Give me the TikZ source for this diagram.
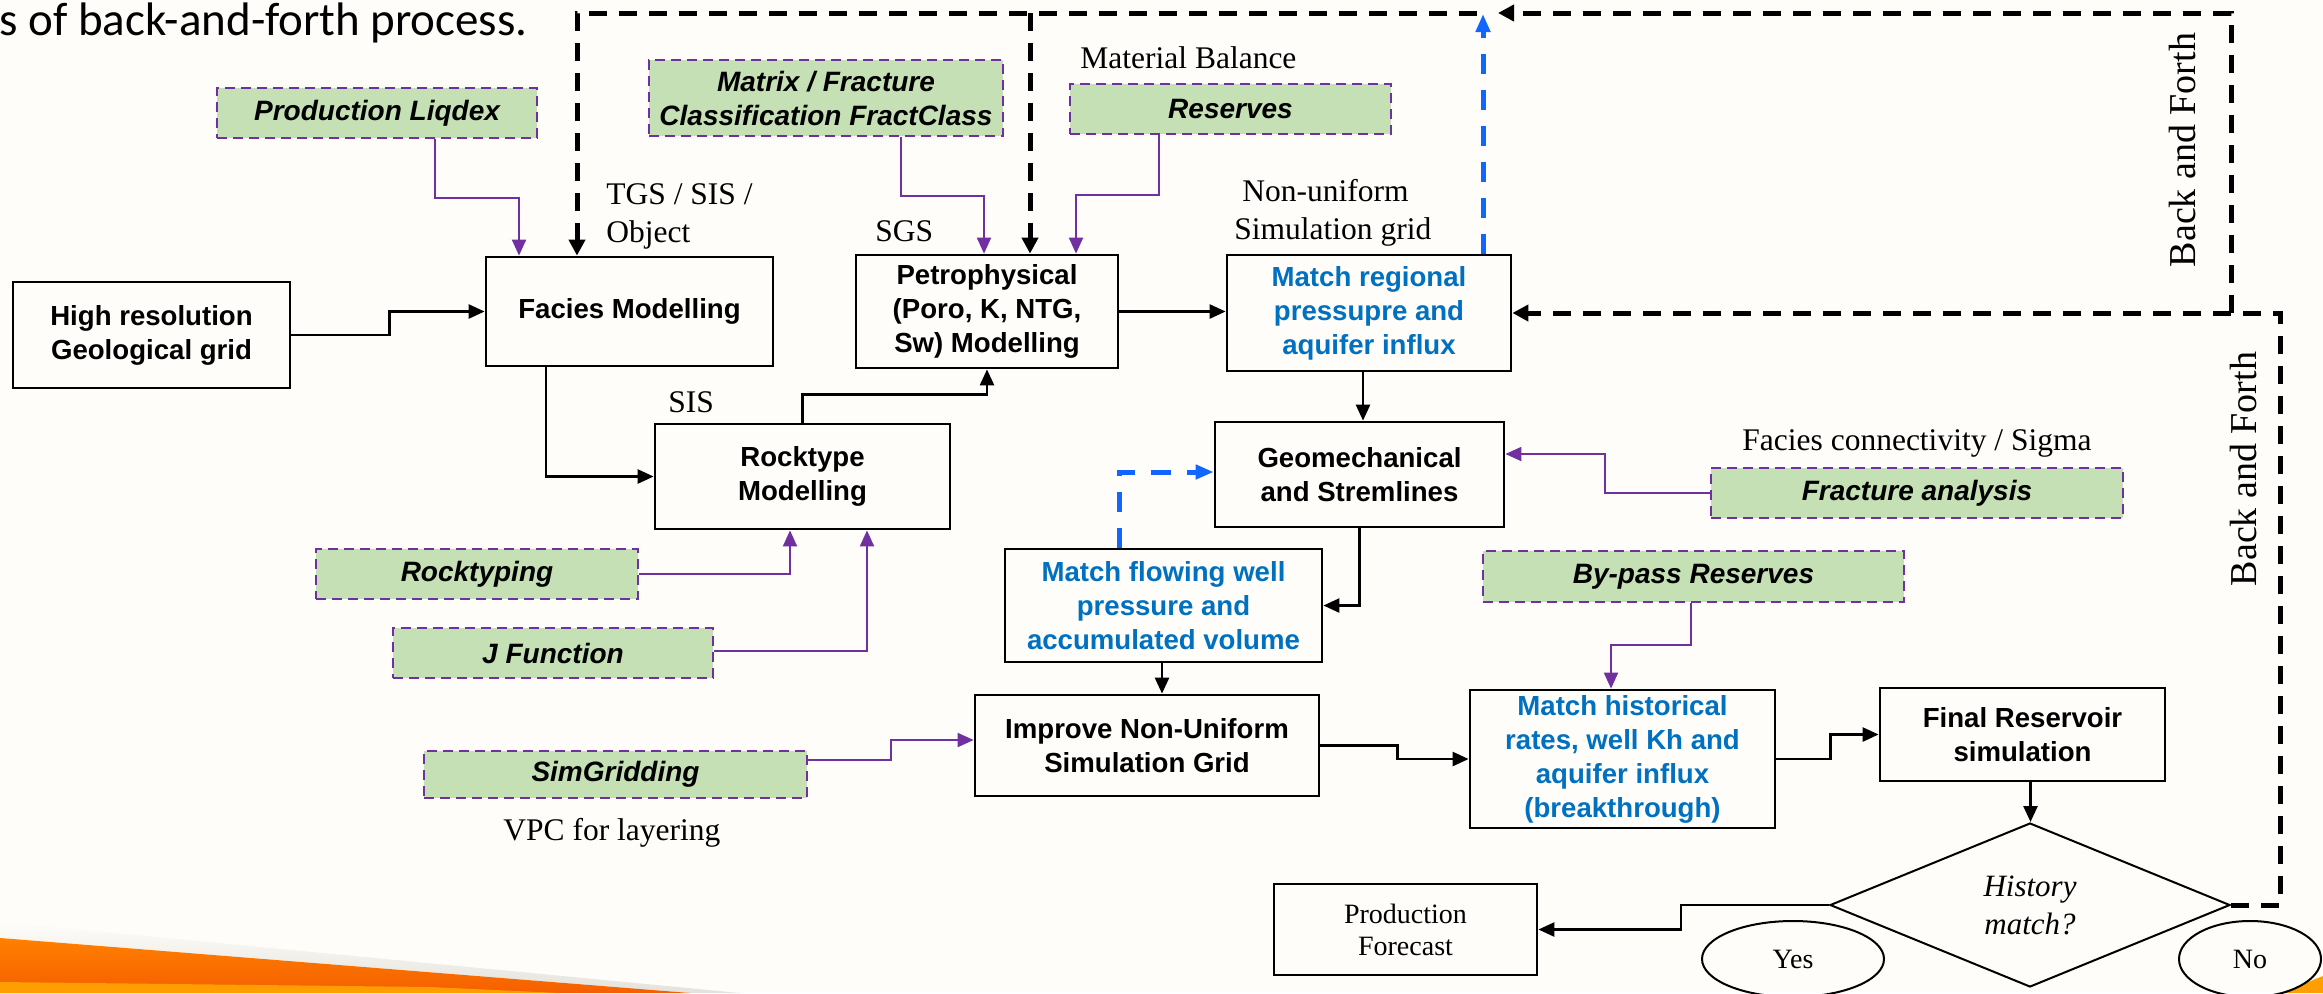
\documentclass[tikz,border=0pt]{standalone}
\usepackage{fontspec}
\setmainfont{Liberation Serif}
\setsansfont{Liberation Sans}
\newfontfamily\titlefont{Carlito}
\usetikzlibrary{arrows.meta,shapes.geometric,calc}
\definecolor{bgc}{RGB}{254,253,249}
\definecolor{grn}{RGB}{197,224,180}
\definecolor{purp}{RGB}{112,48,160}
\definecolor{bluetxt}{RGB}{0,112,192}
\definecolor{bluedash}{RGB}{17,102,255}
\definecolor{orng}{RGB}{255,128,0}
\definecolor{orngd}{RGB}{245,95,0}
\definecolor{orng2}{RGB}{255,158,0}
\definecolor{shd}{RGB}{228,226,220}
\begin{document}
\begin{tikzpicture}[x=0.5pt,y=-0.5pt,
 box/.style={draw, line width=1.4pt, fill=bgc, align=center, inner sep=2pt, font=\sffamily\bfseries\fontsize{13.8}{17}\selectfont},
 bluebox/.style={box, text=bluetxt},
 tool/.style={draw=purp, dash pattern=on 5pt off 3pt, line width=1.4pt, fill=grn, align=center, inner sep=2pt, font=\sffamily\bfseries\itshape\fontsize{14}{17}\selectfont},
 note/.style={font=\fontsize{15.75}{19}\selectfont, inner sep=0pt, anchor=base west},
 conn/.style={line width=1.3pt, -{Triangle[length=8pt,width=7pt]}},
 pconn/.style={draw=purp, line width=1pt, -{Triangle[length=8pt,width=7pt]}},
 fb/.style={line width=2.5pt, dash pattern=on 9pt off 6pt},
 fbarrow/.style={fb, -{Triangle[length=8pt,width=8pt]}},
 bluefb/.style={line width=2.5pt, draw=bluedash, dash pattern=on 10pt off 8pt, -{Triangle[length=9pt,width=7pt]}},
 oval/.style={ellipse, draw, line width=1pt, inner sep=0pt, font=\fontsize{14}{16}\selectfont}
]
\useasboundingbox (0,0) rectangle (2323,993);
\fill[bgc] (0,0) rectangle (2323,993);
% orange swoosh with soft shadow
\shade[top color=bgc, bottom color=shd] (0,922) -- (740,993) -- (690,993) -- (0,938) -- cycle;
\shade[top color=orng, bottom color=orngd] (0,938) -- (690,993) -- (0,993) -- cycle;
\fill[orng2] (0,982) -- (430,987) -- (560,993) -- (0,993) -- cycle;
\fill[orng2] (2285,993) .. controls (2300,986) and (2312,980) .. (2323,976) -- (2323,993) -- cycle;

% title
\node[anchor=base west, inner sep=0pt, font=\titlefont\fontsize{23.5}{28}\selectfont] (title) at (-1,35) {s of back-and-forth process.};

% main boxes
\node[box, minimum width=138.5pt, minimum height=53pt] (hr) at (151.5,335) {High resolution\\Geological grid};
\node[box, minimum width=143.5pt, minimum height=54.5pt] (facies) at (629.5,311.5) {Facies Modelling};
\node[box, minimum width=131pt, minimum height=56.5pt] (petro) at (987,311.5) {Petrophysical\\(Poro, K, NTG,\\Sw) Modelling};
\node[bluebox, minimum width=142pt, minimum height=58pt] (regional) at (1369,313) {Match regional\\pressupre and\\aquifer influx};
\node[box, minimum width=147.5pt, minimum height=52.5pt] (rock) at (802.5,476.5) {Rocktype\\Modelling};
\node[box, minimum width=144.5pt, minimum height=52.5pt] (geo) at (1359.5,474.5) {Geomechanical\\and Stremlines};
\node[bluebox, minimum width=158.5pt, minimum height=56.5pt] (flowing) at (1163.5,605.5) {Match flowing well\\pressure and\\accumulated volume};
\node[box, minimum width=172pt, minimum height=50.5pt] (improve) at (1147,745.5) {Improve Non-Uniform\\Simulation Grid};
\node[bluebox, minimum width=152.5pt, minimum height=69pt] (hist) at (1622.5,759) {Match historical\\rates, well Kh and\\aquifer influx\\(breakthrough)};
\node[box, minimum width=142.5pt, minimum height=46.5pt] (final) at (2022.5,734.5) {Final Reservoir\\simulation};
\node[draw, line width=1.4pt, fill=bgc, align=center, minimum width=131.5pt, minimum height=45.5pt, font=\fontsize{14}{16}\selectfont] (prod) at (1405.5,929.5) {Production\\Forecast};
\node[diamond, draw, line width=1pt, fill=bgc, minimum width=200pt, minimum height=82pt, inner sep=0pt, align=center, font=\itshape\fontsize{15.5}{19}\selectfont] (dia) at (2030,905) {History\\match?};
\node[oval, minimum width=91pt, minimum height=38pt] (yes) at (1793,959) {Yes};
\node[oval, minimum width=71pt, minimum height=38pt] (no) at (2250,959) {No};

% tool boxes
\node[tool, minimum width=160pt, minimum height=25pt] (liqdex) at (377,113) {Production Liqdex};
\node[tool, minimum width=177pt, minimum height=38pt] (matrix) at (826,98) {Matrix / Fracture\\Classification FractClass};
\node[tool, minimum width=160.5pt, minimum height=25pt] (reserves) at (1230.5,109) {Reserves};
\node[tool, minimum width=206pt, minimum height=25pt] (fracture) at (1917,493) {Fracture analysis};
\node[tool, minimum width=210.5pt, minimum height=25.5pt] (bypass) at (1693.5,576.5) {By-pass Reserves};
\node[tool, minimum width=161pt, minimum height=25pt] (rocktyping) at (477,574) {Rocktyping};
\node[tool, minimum width=160pt, minimum height=25pt] (jfunc) at (553,653) {J Function};
\node[tool, minimum width=191.5pt, minimum height=23.5pt] (simgrid) at (615.5,774.5) {SimGridding};

% notes
\node[note] (tgs1) at (606,204) {TGS / SIS /};
\node[note] (tgs2) at (606,242) {Object};
\node[note] (sis) at (668,412) {SIS};
\node[note] (sgs) at (875,241) {SGS};
\node[note] (mb) at (1080,68) {Material Balance};
\node[note] (nu1) at (1242,201) {Non-uniform};
\node[note] (nu2) at (1234,239) {Simulation grid};
\node[note] (fcs) at (1742,450) {Facies connectivity / Sigma};
\node[note] (vpc) at (503,840) {VPC for layering};
\node[rotate=90, inner sep=0pt, font=\fontsize{19}{21}\selectfont] (bf1) at (2182,150) {Back and Forth};
\node[rotate=90, inner sep=0pt, font=\fontsize{19}{21}\selectfont] (bf2) at (2243,469) {Back and Forth};

% coordinates for feedback loops
\coordinate (topL) at (577,13);
\coordinate (topM) at (1477,13);
\coordinate (topP) at (1030,13);
\coordinate (topB) at (1483,14);
\coordinate (topR) at (1498,13);
\coordinate (cA) at (2231,313);
\coordinate (cB) at (2231,13);
\coordinate (cNo) at (2280,313);
\coordinate (rs) at ($(regional.south)+(-6,0)$);
\coordinate (fs) at ($(flowing.south)+(-1.5,0)$);
\coordinate (ffs) at ($(final.south)+(8,0)$);

% black connectors
\draw[conn] (hr.east) -- ++(98,0) |- (facies.west);
\draw[conn] ($(facies.south)+(-83.5,0)$) |- (rock.west);
\draw[conn] (rock.north) -- ++(0,-28) -| (petro.south);
\draw[conn] (petro.east) -- (petro.east -| regional.west);
\draw[conn] (rs) -- (rs |- geo.north);
\draw[conn] (geo.south) |- (flowing.east);
\draw[conn] (fs) -- (fs |- improve.north);
\draw[conn] (improve.east) -- ++(77,0) |- (hist.west);
\draw[conn] (hist.east) -- ++(54,0) |- (final.west);
\draw[conn] (ffs) -- (ffs |- dia.north);
\draw[conn] (dia.west) -- ++(-148,0) |- (prod.east);

% purple connectors
\draw[pconn] ($(liqdex.south)+(58,0)$) -- ++(0,59) -| ($(facies.north)+(-110.5,0)$);
\draw[pconn] ($(matrix.south)+(75,0)$) -- ++(0,59) -| ($(petro.north)+(-3,0)$);
\draw[pconn] ($(reserves.south)+(-71.5,0)$) -- ++(0,60) -| ($(petro.north)+(89,0)$);
\draw[pconn] (rocktyping.east) -| ($(rock.south)+(-12.5,0)$);
\draw[pconn] ($(jfunc.east)+(0,-2)$) -| ($(rock.south)+(64.5,0)$);
\draw[pconn] (fracture.west) -- ++(-105,0) |- ($(geo.east)+(0,-20.5)$);
\draw[pconn] ($(bypass.south)+(-2.5,0)$) -- ++(0,42) -| ($(hist.north)+(-11.5,0)$);
\draw[pconn] ($(simgrid.east)+(0,-14.5)$) -- ++(83,0) |- ($(improve.west)+(0,-5.5)$);

% feedback dashed
\draw[fbarrow] (topM) -- (topL) -- (topL |- facies.north);
\draw[fbarrow] (topP) -- (topP |- petro.north);
\draw[fbarrow] (cA) -- (cB) -- (topR);
\draw[fbarrow] (dia.east) -| (cNo) -- (regional.east);
\draw[bluefb] ($(regional.north)+(114,0)$) -- (topB);
\draw[bluefb] ($(flowing.north)+(-44.5,0)$) |- ($(geo.west)+(0,-2.5)$);
\end{tikzpicture}
\end{document}
